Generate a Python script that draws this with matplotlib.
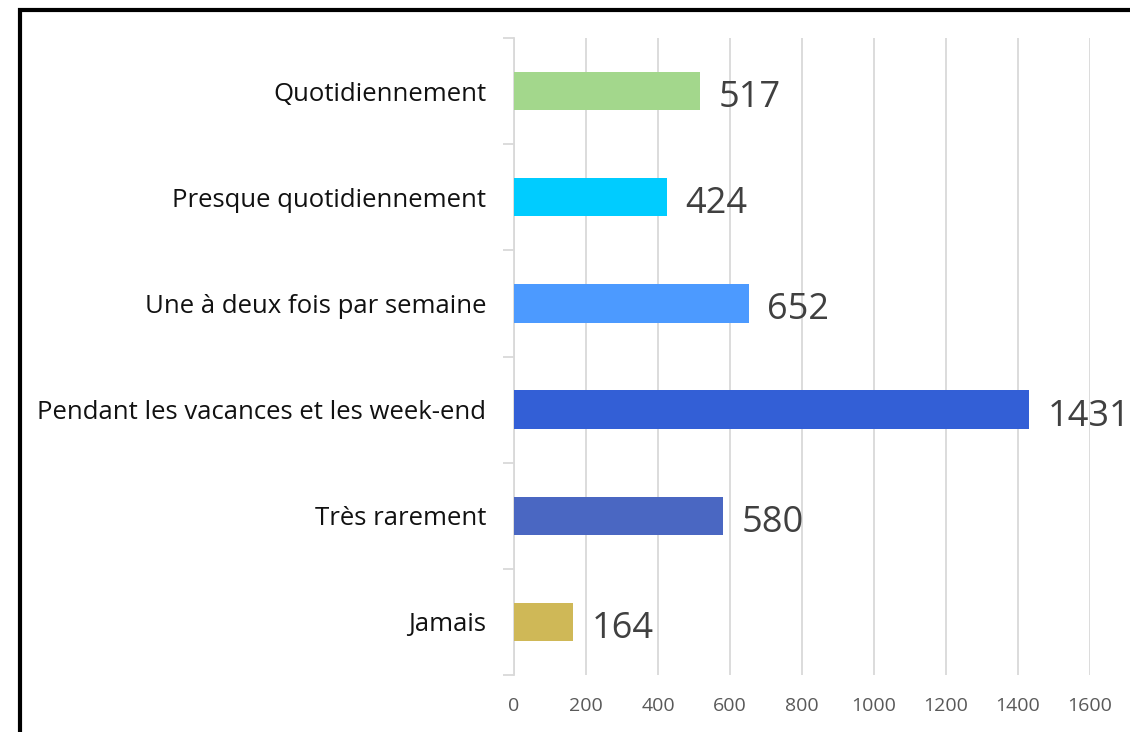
import matplotlib.pyplot as plt
from matplotlib.patches import Rectangle
from matplotlib.ticker import FixedLocator

# donnees (du bas vers le haut)
categories = ["Jamais", "Très rarement", "Pendant les vacances et les week-end",
              "Une à deux fois par semaine", "Presque quotidiennement", "Quotidiennement"]
valeurs = [164, 580, 1431, 652, 424, 517]
couleurs = ["#CFB857", "#4A67C2", "#335FD6", "#4C9AFF", "#00CCFF", "#A3D78C"]
graduations = [0, 200, 400, 600, 800, 1000, 1200, 1400, 1600]

plt.rcParams['font.family'] = ['Open Sans', 'DejaVu Sans']

fig = plt.figure(figsize=(11.3, 7.32), dpi=100)
ax = fig.add_axes([514 / 1130, 1 - 675 / 732, 576 / 1130, 637 / 732])

pos = list(range(len(categories)))
ax.barh(pos, valeurs, height=0.36, color=couleurs, zorder=3)

for y, v in zip(pos, valeurs):
    ax.annotate(str(v), (v, y), xytext=(13.5, -5), textcoords="offset points",
                ha="left", va="center", fontsize=26, color="#404040",
                annotation_clip=False)

ax.set_xlim(0, 1600)
ax.set_ylim(-0.5, len(categories) - 0.5)
ax.set_xticks(graduations)
ax.set_yticks(pos)
ax.set_yticklabels(categories, fontsize=18.5, color="#111111")
ax.yaxis.set_minor_locator(FixedLocator([i - 0.5 for i in range(len(categories) + 1)]))
ax.tick_params(axis="y", which="major", length=0, pad=20)
ax.tick_params(axis="y", which="minor", length=8, color="#D9D9D9", width=1.3)
ax.tick_params(axis="x", length=0, labelsize=14, labelcolor="#595959", pad=16)
ax.grid(axis="x", color="#D9D9D9", linewidth=1.3, zorder=0)
for s in ["top", "right", "bottom"]:
    ax.spines[s].set_visible(False)
ax.spines["left"].set_color("#D9D9D9")
ax.spines["left"].set_linewidth(1.3)

# cadre noir
cadre = Rectangle((20 / 1130, -0.2), 1.2, 1.2 - 9.5 / 732, transform=fig.transFigure,
                  fill=False, edgecolor="black", linewidth=3)
fig.patches.append(cadre)

fig.savefig("out.png", dpi=100)
